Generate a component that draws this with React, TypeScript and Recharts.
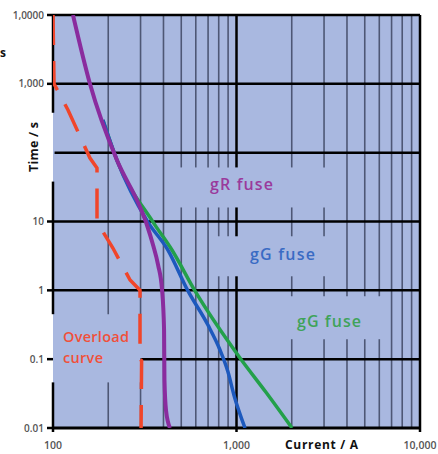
import React from 'react';
import { LineChart, Line, XAxis, YAxis, CartesianGrid, ReferenceLine } from 'recharts';

const xTicks = [100, 1000, 10000];
const xTickLabels = ['100', '1,000', '10,000'];
const yTicks = [0.01, 0.1, 1, 10, 100, 1000, 10000];
const yTickLabels = ['0.01', '0.1', '1', '10', '', '1,000', '1,0000'];

const minorCurrents = [200, 300, 400, 500, 600, 700, 800, 900, 2000, 3000, 4000, 5000, 6000, 7000, 8000, 9000];
const majorTimes = [0.1, 1, 10, 100, 1000, 10000];

// current (A) vs time (s)
const gRFuse = [
  { x: 128.5, y: 10000 },
  { x: 159, y: 1000 },
  { x: 223, y: 78 },
  { x: 298, y: 16.2 },
  { x: 325, y: 8.9 },
  { x: 351, y: 4.55 },
  { x: 374, y: 2.33 },
  { x: 393, y: 1.01 },
  { x: 403, y: 0.265 },
  { x: 405, y: 0.05 },
  { x: 413, y: 0.018 },
  { x: 434, y: 0.01 },
];

const gGFuseBlue = [
  { x: 187, y: 298 },
  { x: 223, y: 78 },
  { x: 329, y: 9.8 },
  { x: 423, y: 3.85 },
  { x: 544, y: 0.98 },
  { x: 699, y: 0.313 },
  { x: 813, y: 0.136 },
  { x: 899, y: 0.065 },
  { x: 969, y: 0.03 },
  { x: 1113, y: 0.01 },
];

const gGFuseGreen = [
  { x: 187, y: 298 },
  { x: 223, y: 78 },
  { x: 351, y: 9.8 },
  { x: 445, y: 3.85 },
  { x: 594, y: 0.98 },
  { x: 1045, y: 0.104 },
  { x: 1448, y: 0.033 },
  { x: 2007, y: 0.01 },
];

const overloadCurve = [
  { x: 100, y: 10000 },
  { x: 101.3, y: 1000 },
  { x: 120.7, y: 417 },
  { x: 159, y: 83.6 },
  { x: 173.7, y: 59.8 },
  { x: 173.7, y: 9.8 },
  { x: 212, y: 4.12 },
  { x: 263, y: 1.41 },
  { x: 298, y: 1 },
  { x: 298, y: 0.1 },
  { x: 304, y: 0.095 },
  { x: 302, y: 0.01 },
];

// boxes behind the captions where the grid is left out
const gaps = [
  { x: [460, 3450], y: [16, 61] },
  { x: [760, 3900], y: [1.6, 6.1] },
  { x: [1340, 6500], y: [0.195, 0.82] },
  { x: [99, 300], y: [0.046, 0.45] },
  { x: [99, 102], y: [38, 380] },
];

type Seg = [number, number];

function cut(at: number, lo: number, hi: number, vertical: boolean): Seg[] {
  let segs: Seg[] = [[lo, hi]];
  gaps.forEach((g) => {
    const own = vertical ? g.x : g.y;
    const other = vertical ? g.y : g.x;
    if (at < own[0] || at > own[1]) return;
    segs = segs.flatMap(([a, b]) => {
      const out: Seg[] = [];
      if (other[0] > a) out.push([a, Math.min(b, other[0])]);
      if (other[1] < b) out.push([Math.max(a, other[1]), b]);
      return out;
    });
  });
  return segs.filter(([a, b]) => b > a);
}

const BG = '#a9b8e0';
const FONT = '"Open Sans", "Noto Sans", sans-serif';

const YTick = (props: any) => {
  const { x, y, payload } = props;
  const label = yTickLabels[yTicks.indexOf(payload.value)];
  if (!label) return null;
  return (
    <g>
      <line x1={x - 6} x2={x} y1={y} y2={y} stroke="#000" strokeWidth={2.5} />
      <text x={x - 9} y={y + 3.5} textAnchor="end" fontSize={10} fontWeight={600} fill="#555" fontFamily={FONT}>
        {label}
      </text>
    </g>
  );
};

const XTick = (props: any) => {
  const { x, y, payload } = props;
  const label = xTickLabels[xTicks.indexOf(payload.value)];
  return (
    <g>
      <line x1={x} x2={x} y1={y} y2={y + 4} stroke="#000" strokeWidth={2.5} />
      <text x={x} y={y + 21} textAnchor="middle" fontSize={10.5} fontWeight={600} fill="#555" fontFamily={FONT}>
        {label}
      </text>
    </g>
  );
};

export default function App() {
  const vLine = (x: number, stroke: string, width: number, key: string) =>
    cut(x, 0.01, 10000, true).map(([a, b], i) => (
      <ReferenceLine
        key={`${key}-${i}`}
        segment={[{ x, y: a }, { x, y: b }]}
        stroke={stroke}
        strokeWidth={width}
        zIndex={-50}
      />
    ));
  const hLine = (y: number, stroke: string, width: number, key: string) =>
    cut(y, 100, 10000, false).map(([a, b], i) => (
      <ReferenceLine
        key={`${key}-${i}`}
        segment={[{ x: a, y }, { x: b, y }]}
        stroke={stroke}
        strokeWidth={width}
        zIndex={-50}
      />
    ));

  return (
    <div style={{ position: 'fixed', left: 0, top: 0, width: 438, height: 454, background: '#fff' }}>
      <LineChart width={438} height={454} margin={{ top: 15, right: 18, bottom: 0, left: 0 }}>
        <CartesianGrid fill={BG} horizontal={false} vertical={false} stroke="none" />
        <XAxis
          type="number"
          dataKey="x"
          scale="log"
          domain={[100, 10000]}
          ticks={xTicks}
          interval={0}
          allowDataOverflow
          height={26}
          axisLine={false}
          tickLine={false}
          tickSize={0}
          tickMargin={0}
          tick={<XTick />}
        />
        <YAxis
          type="number"
          dataKey="y"
          scale="log"
          domain={[0.01, 10000]}
          ticks={yTicks}
          interval={0}
          allowDataOverflow
          width={53}
          axisLine={false}
          tickLine={false}
          tickSize={0}
          tickMargin={0}
          tick={<YTick />}
        />
        {minorCurrents.map((c) => vLine(c, '#4e5775', 1.6, `m${c}`))}
        {vLine(1000, '#000', 2.5, 'v1000')}
        {majorTimes.map((t) => hLine(t, '#000', 2.5, `h${t}`))}
        {vLine(100, '#000', 2.5, 'left')}
        {vLine(10000, '#000', 2.5, 'right')}
        {hLine(0.01, '#000', 3, 'bottom')}
        <Line data={gGFuseGreen} dataKey="y" type="monotone" stroke="#23a04a" strokeWidth={3.5} dot={false} isAnimationActive={false} />
        <Line data={gGFuseBlue} dataKey="y" type="monotone" stroke="#1d59bd" strokeWidth={3.5} dot={false} isAnimationActive={false} />
        <Line data={gRFuse} dataKey="y" type="monotone" stroke="#8a2c9e" strokeWidth={4} dot={false} isAnimationActive={false} />
        <Line
          data={overloadCurve}
          dataKey="y"
          type="linear"
          stroke="#f0452a"
          strokeWidth={3.5}
          strokeDasharray="30 16"
          dot={false}
          isAnimationActive={false}
        />
      </LineChart>
      <svg width={438} height={454} style={{ position: 'absolute', left: 0, top: 0, pointerEvents: 'none' }} fontFamily={FONT}>
        <text x={210} y={190} fontSize={16} fontWeight={600} fill="#9a3a9c" textLength={63}>gR fuse</text>
        <text x={250} y={260} fontSize={16} fontWeight={600} fill="#3a6bc4" textLength={65}>gG fuse</text>
        <text x={297} y={327} fontSize={16} fontWeight={600} fill="#3fa35a" textLength={64}>gG fuse</text>
        <text x={63} y={342} fontSize={14.5} fontWeight={600} fill="#f0503a" textLength={66}>Overload</text>
        <text x={63} y={362.5} fontSize={14.5} fontWeight={600} fill="#f0503a" textLength={40}>curve</text>
        <text x={38} y={147} fontSize={12.5} fontWeight={700} fill="#111" textAnchor="middle" textLength={50} transform="rotate(-90 38 147)">
          Time / s
        </text>
        <text x={0} y={57} fontSize={12} fontWeight={700} fill="#111">s</text>
        <text x={285} y={449} fontSize={12} fontWeight={700} fill="#111" textLength={73}>Current / A</text>
      </svg>
    </div>
  );
}
